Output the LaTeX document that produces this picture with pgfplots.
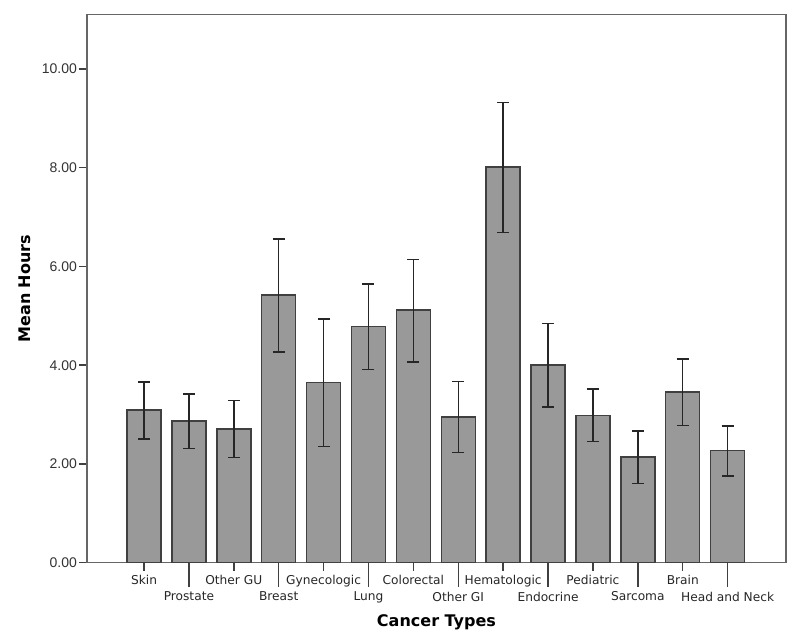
\documentclass[border=0pt]{standalone}
\usepackage{fontspec}
\setmainfont{DejaVu Sans}
\newfontfamily\arialfont{Liberation Sans}
\usepackage{pgfplots}
\pgfplotsset{compat=1.18}

% x, mean, error up, error down
\pgfplotstableread{
x y ep em
0 3.09 0.57 0.58
1 2.87 0.55 0.56
2 2.71 0.58 0.58
3 5.42 1.14 1.15
4 3.65 1.29 1.30
5 4.78 0.87 0.87
6 5.12 1.02 1.05
7 2.95 0.72 0.72
8 8.01 1.31 1.32
9 4.00 0.84 0.85
10 2.98 0.54 0.53
11 2.14 0.53 0.54
12 3.46 0.67 0.68
13 2.27 0.50 0.51
}\hours

\begin{document}
\begin{tikzpicture}
\begin{axis}[
    at={(0,0)}, anchor=south west,
    scale only axis,
    width=349.5pt, height=274pt,
    xmin=-1.27, xmax=14.3,
    ymin=0, ymax=11.1,
    axis line style={black!60, line width=0.75pt},
    tick style={black!75, line width=0.75pt},
    tick align=outside,
    major tick length=4pt,
    ytick={0,2,...,10},
    ytick pos=left,
    xtick pos=bottom,
    yticklabel style={font=\arialfont\fontsize{7}{8}\selectfont, text=black!80, xshift=2.5pt,
        /pgf/number format/.cd, fixed, fixed zerofill, precision=2, assume math mode=true},
    xtick={0,2,...,12},
    xticklabels={Skin,Other GU,Gynecologic,Colorectal,Hematologic,Pediatric,Brain},
    xticklabel style={font=\fontsize{6.1}{7}\selectfont, text=black!85, yshift=1.5pt},
    extra x ticks={1,3,...,13},
    extra x tick labels={Prostate,Breast,Lung,Other GI,Endocrine,Sarcoma,Head and Neck},
    extra x tick style={/pgfplots/major tick length=12pt,
        xticklabel style={yshift=-0.5pt}},
    ylabel={\bfseries Mean Hours},
    ylabel style={font=\fontsize{8}{9}\selectfont, at={(axis description cs:0,0.5)},
        anchor=center, yshift=31pt},
    xlabel={\bfseries Cancer Types},
    xlabel style={font=\fontsize{8}{9}\selectfont, at={(axis description cs:0.5,0)},
        anchor=center, yshift=-29.6pt},
]
\addplot[ybar, bar width=17pt, fill=black!40, draw=black!75, line width=0.75pt,
    error bars/.cd, y dir=both, y explicit,
    error bar style={black!85, line width=0.75pt},
    error mark options={rotate=90, mark size=3pt, line width=0.75pt, black!85}]
    table[x=x, y=y, y error plus=ep, y error minus=em] {\hours};
\end{axis}
\pgfresetboundingbox
\useasboundingbox (-43.5pt,-40.15pt) rectangle (356.5pt,281.35pt);
\end{tikzpicture}
\end{document}
